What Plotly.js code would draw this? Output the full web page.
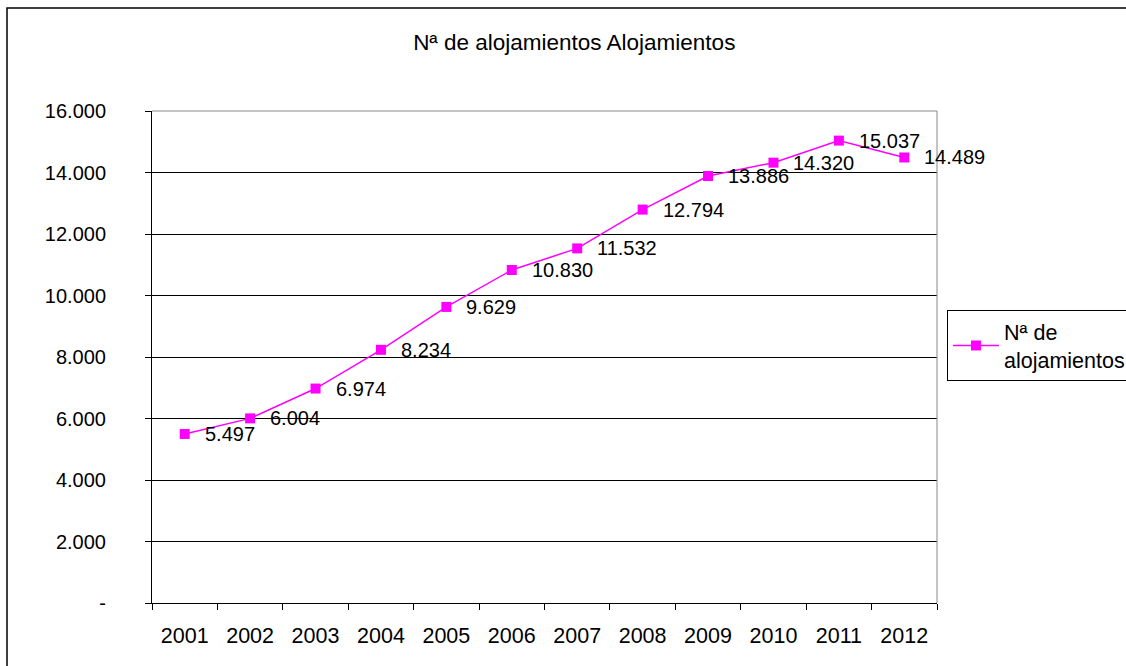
<!DOCTYPE html>
<html>
<head>
<meta charset="utf-8">
<script src="https://cdn.plot.ly/plotly-3.0.1.min.js"></script>
<style>html,body{margin:0;padding:0;background:#fff;overflow:hidden;}#chart{width:1126px;height:666px;}</style>
</head>
<body>
<div id="chart"></div>
<script>
const years = ['2001','2002','2003','2004','2005','2006','2007','2008','2009','2010','2011','2012'];
const alojamientos = [5497, 6004, 6974, 8234, 9629, 10830, 11532, 12794, 13886, 14320, 15037, 14489];
const yTickVals = [0, 2000, 4000, 6000, 8000, 10000, 12000, 14000, 16000];
const yTickText = ['-', '2.000', '4.000', '6.000', '8.000', '10.000', '12.000', '14.000', '16.000'];
const seriesName = 'Nª de<br>alojamientos';
const chartTitle = 'Nª de alojamientos Alojamientos';

function fmt(v) {
  return String(v).replace(/\B(?=(\d{3})+(?!\d))/g, '.');
}

const FONT = 'Arial, "Liberation Sans", sans-serif';

const trace = {
  type: 'scatter',
  mode: 'lines+markers',
  x: years,
  y: alojamientos,
  name: seriesName,
  line: {color: '#FF00FF', width: 1.5},
  marker: {symbol: 'square', size: 10, color: '#FF00FF'},
  hoverinfo: 'x+y'
};

// annotations on a category axis use the category index
const annotations = years.map((yr, i) => ({
  x: i, y: alojamientos[i], xref: 'x', yref: 'y',
  text: fmt(alojamientos[i]), showarrow: false,
  xanchor: 'left', yanchor: 'middle', xshift: 18,
  font: {family: FONT, size: 20, color: '#000'}
}));

const layout = {
  width: 1126, height: 666,
  paper_bgcolor: '#fff', plot_bgcolor: '#fff',
  margin: {l: 152, r: 189, t: 111, b: 63, pad: 0, autoexpand: false},
  font: {family: FONT, size: 20, color: '#000'},
  title: {text: chartTitle, x: 0.51, xref: 'container', xanchor: 'center', y: 0.937, yanchor: 'middle', font: {family: FONT, size: 22.5, color: '#000'}},
  showlegend: true,
  legend: {xref: 'container', yref: 'container', x: 0.841, y: 0.5345, xanchor: 'left', yanchor: 'top', bordercolor: '#000', borderwidth: 1, bgcolor: '#fff', itemwidth: 46, font: {family: FONT, size: 21.5, color: '#000'}},
  xaxis: {
    type: 'category', tickson: 'boundaries', ticks: 'outside', ticklen: 6, tickcolor: '#000',
    showline: true, linecolor: '#000', linewidth: 1, showgrid: false, zeroline: false,
    range: [-0.5, years.length - 0.5], autorange: false, tickangle: 0,
    tickfont: {family: FONT, size: 21.5, color: '#000'}, ticklabelstandoff: 13
  },
  yaxis: {
    range: [0, 16000], autorange: false, tickvals: yTickVals, ticktext: yTickText,
    ticks: 'outside', ticklen: 6, tickcolor: '#000',
    showline: true, linecolor: '#000', linewidth: 1,
    showgrid: true, gridcolor: '#000', gridwidth: 1, zeroline: false,
    tickfont: {family: FONT, size: 20, color: '#000'}, ticklabelstandoff: 35
  },
  annotations: annotations,
  shapes: [
    {type: 'line', xref: 'paper', yref: 'paper', x0: 0, x1: 1, y0: 1, y1: 1, line: {color: '#888', width: 1}},
    {type: 'line', xref: 'paper', yref: 'paper', x0: 1, x1: 1, y0: 0, y1: 1, line: {color: '#888', width: 1}},
    {type: 'rect', xref: 'paper', yref: 'paper', x0: -0.1847, x1: 1.4, y0: -0.3, y1: 1.2093, line: {color: '#000', width: 1.5}, layer: 'below'}
  ]
};

Plotly.newPlot('chart', [trace], layout, {displayModeBar: false, staticPlot: true});
</script>
</body>
</html>
